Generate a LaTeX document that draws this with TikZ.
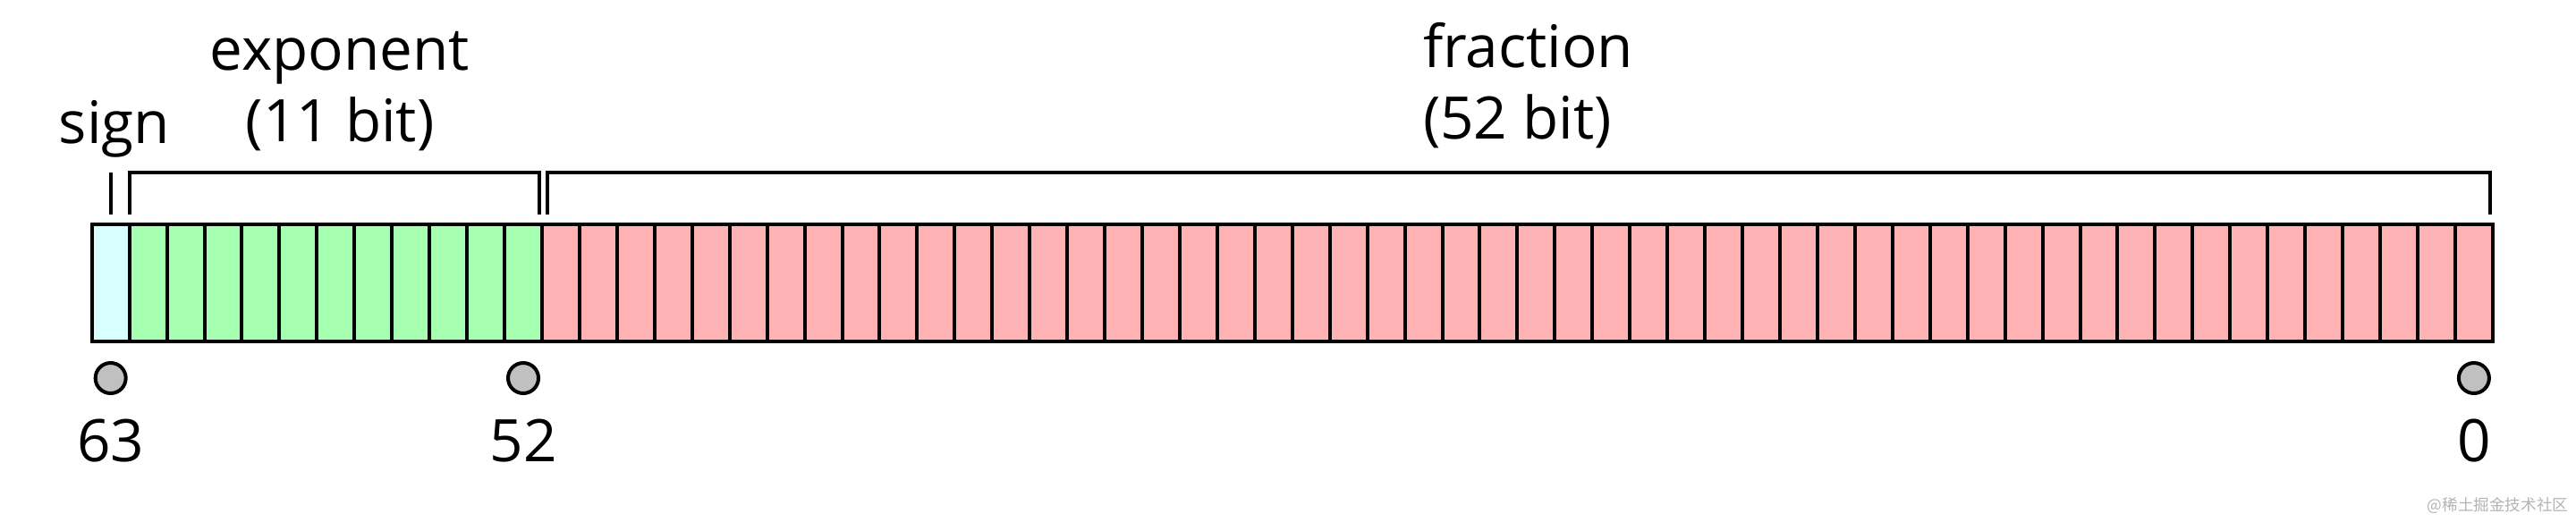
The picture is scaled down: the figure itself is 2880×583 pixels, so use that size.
\documentclass[tikz,border=0pt]{standalone}
\usepackage{fontspec}
\setmainfont{Open Sans}
\newfontfamily\cjkfont{Noto Sans CJK SC}
\usepackage{tikz}
\usetikzlibrary{positioning, calc}
\tikzset{
    bitcell/.style={rectangle, draw=black, fill=#1, minimum width=10.485pt, minimum height=32.75pt, inner sep=0pt, outer sep=0pt, line width=1pt},
    bitmark/.style={circle, draw=black, fill=markgray, minimum size=8.5pt, inner sep=0pt, outer sep=0pt, line width=1pt},
    bitnum/.style={inner sep=0pt, outer sep=0pt, font=\fontsize{16.4}{19.7}\selectfont},
    bitbrace/.style={draw=black, line width=1pt},
    bittitle/.style={inner sep=0pt, outer sep=0pt, font=\fontsize{16.4}{20}\selectfont, align=#1},
    bittitle/.default=center,
    bitwater/.style={inner sep=0pt, text=wmgray, font=\cjkfont\fontsize{4.4}{5}\selectfont}
}
\definecolor{signcyan}{RGB}{216,255,255}
\definecolor{expgreen}{RGB}{166,255,176}
\definecolor{fracpink}{RGB}{255,178,180}
\definecolor{markgray}{RGB}{192,192,192}
\definecolor{wmgray}{RGB}{180,180,180}

\begin{document}
\begin{tikzpicture}[x=0.25pt, y=0.25pt]

\path[use as bounding box, fill=white] (0,0) rectangle (2880,583);

% bit cells, 63 on the left
\node[bitcell=signcyan] (b63) at (123.67,266.5) {};
\foreach \i [remember=\i as \prev (initially 63)] in {62,...,52}
    \node[bitcell=expgreen, right=0pt of b\prev] (b\i) {};
\foreach \i [remember=\i as \prev (initially 52)] in {51,...,0}
    \node[bitcell=fracpink, right=0pt of b\prev] (b\i) {};

% brackets
\draw[bitbrace] ([yshift=2.75pt]b63.north) -- ++(0,47);
\draw[bitbrace] ([shift={(0,11)}]b62.north west) -- ++(0,47) -| ([shift={(-3,11)}]b52.north east);
\draw[bitbrace] ([shift={(6,11)}]b51.north west) -- ++(0,47) -| ([shift={(-3,11)}]b0.north east);

% markers and bit numbers
\node[bitmark, below=6pt of b63] (m63) {};
\node[bitmark, below=6pt of b52] (m52) {};
\node[bitmark, below=6pt of b0] (m0) {};
\node[bitnum, below=7.25pt of m63] (n63) {63};
\node[bitnum, below=7.25pt of m52] (n52) {52};
\node[bitnum, below=7.25pt of m0] (n0) {0};

% field titles (base = last line)
\node[bittitle, anchor=base] (tsign) at (128,423) {sign};
\node[bittitle, anchor=base] (texp) at (380,425) {exponent\\(11 bit)};
\node[bittitle=left, anchor=base west] (tfrac) at (1591,428) {fraction\\(52 bit)};

\node[bitwater, anchor=base east] (wm) at (2872,12) {@稀土掘金技术社区};

\end{tikzpicture}
\end{document}
